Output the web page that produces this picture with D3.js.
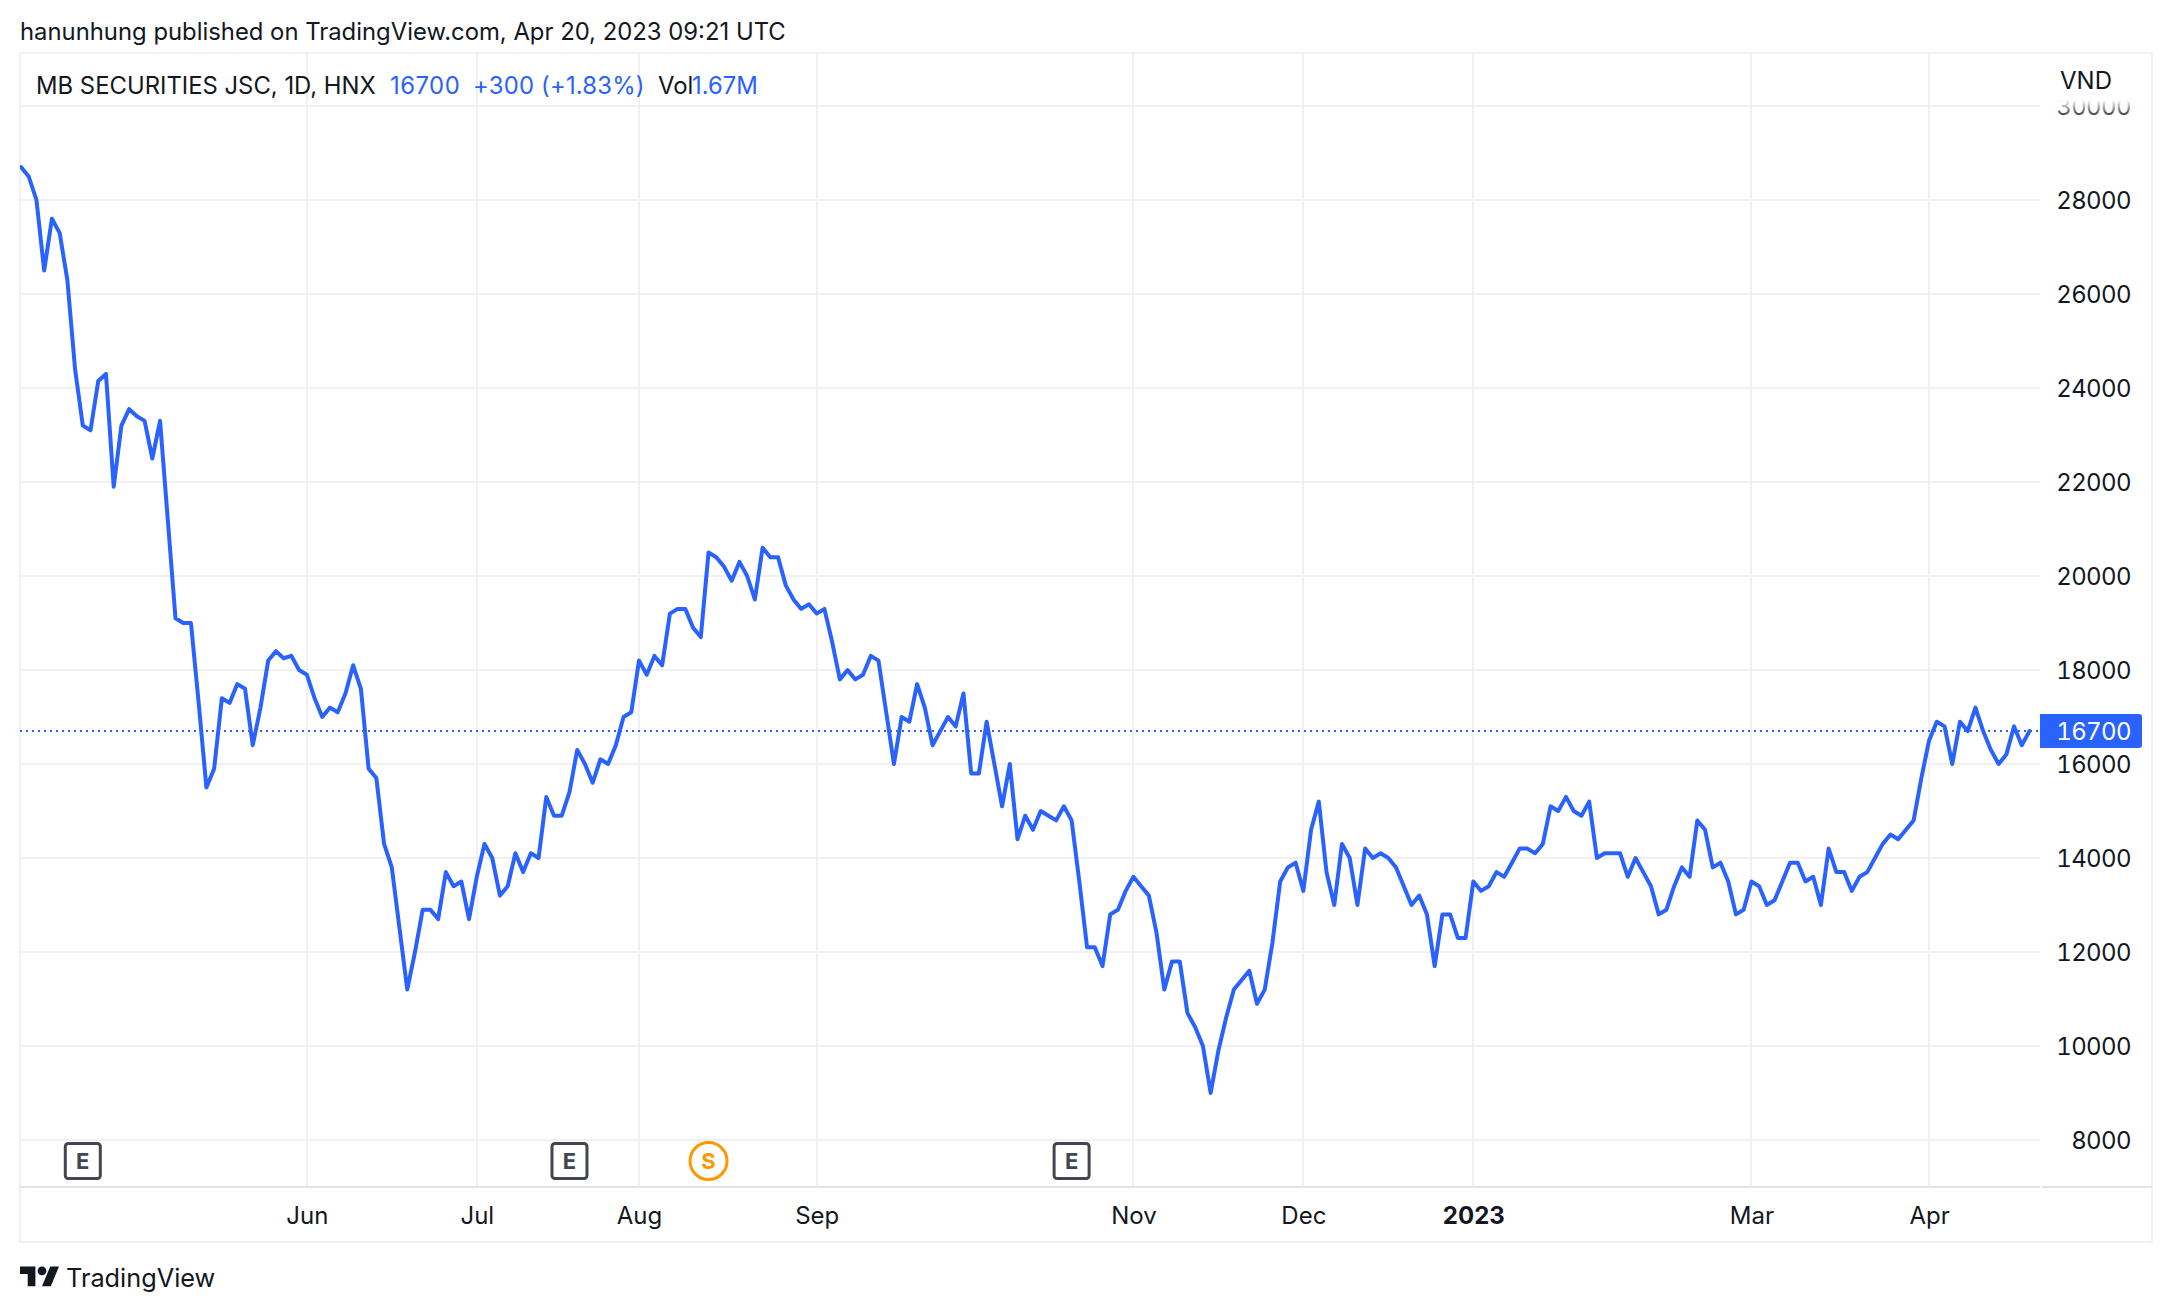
<!DOCTYPE html>
<html>
<head>
<meta charset="utf-8">
<script src="https://cdn.jsdelivr.net/npm/d3@7"></script>
<style>
  html, body { margin: 0; background: #fff; }
  svg { display: block; }
  text { font-family: Inter, 'Noto Sans', sans-serif; fill: #131722; }
  .nums text, text.nums { font-variant-numeric: tabular-nums; font-feature-settings: 'tnum' 1; letter-spacing: -0.6px; }
</style>
</head>
<body>
<div id="chart"></div>
<script>
// daily close (one value per trading day)
var prices = [
  28700, 28500, 28000, 26500, 27600, 27300, 26300, 24400, 23200, 23100,
  24150, 24300, 21900, 23200, 23550, 23400, 23300, 22500, 23300, 21200,
  19100, 19000, 19000, 17300, 15500, 15900, 17400, 17300, 17700, 17600,
  16400, 17200, 18200, 18400, 18250, 18300, 18000, 17900, 17400, 17000,
  17200, 17100, 17500, 18100, 17600, 15900, 15700, 14300, 13800, 12500,
  11200, 12000, 12900, 12900, 12700, 13700, 13400, 13500, 12700, 13600,
  14300, 14000, 13200, 13400, 14100, 13700, 14100, 14000, 15300, 14900,
  14900, 15400, 16300, 16000, 15600, 16100, 16000, 16400, 17000, 17100,
  18200, 17900, 18300, 18100, 19200, 19300, 19300, 18900, 18700, 20500,
  20400, 20200, 19900, 20300, 20000, 19500, 20600, 20400, 20400, 19800,
  19500, 19300, 19400, 19200, 19300, 18600, 17800, 18000, 17800, 17900,
  18300, 18200, 17100, 16000, 17000, 16900, 17700, 17200, 16400, 16700,
  17000, 16800, 17500, 15800, 15800, 16900, 16000, 15100, 16000, 14400,
  14900, 14600, 15000, 14900, 14800, 15100, 14800, 13500, 12100, 12100,
  11700, 12800, 12900, 13300, 13600, 13400, 13200, 12400, 11200, 11800,
  11800, 10700, 10400, 10000, 9000, 9900, 10600, 11200, 11400, 11600,
  10900, 11200, 12200, 13500, 13800, 13900, 13300, 14600, 15200, 13700,
  13000, 14300, 14000, 13000, 14200, 14000, 14100, 14000, 13800, 13400,
  13000, 13200, 12800, 11700, 12800, 12800, 12300, 12300, 13500, 13300,
  13400, 13700, 13600, 13900, 14200, 14200, 14100, 14300, 15100, 15000,
  15300, 15000, 14900, 15200, 14000, 14100, 14100, 14100, 13600, 14000,
  13700, 13400, 12800, 12900, 13400, 13800, 13600, 14800, 14600, 13800,
  13900, 13500, 12800, 12900, 13500, 13400, 13000, 13100, 13500, 13900,
  13900, 13500, 13600, 13000, 14200, 13700, 13700, 13300, 13600, 13700,
  14000, 14300, 14500, 14400, 14600, 14800, 15700, 16500, 16900, 16800,
  16000, 16900, 16700, 17200, 16700, 16300, 16000, 16200, 16800, 16400,
  16700
]
var priceTicks = [30000, 28000, 26000, 24000, 22000, 20000, 18000, 16000, 14000, 12000, 10000, 8000]
var timeIndexes = [37, 59, 80, 103, 144, 166, 188, 224, 247]
var timeLabels = ['Jun', 'Jul', 'Aug', 'Sep', 'Nov', 'Dec', '2023', 'Mar', 'Apr']
var eventIndexes = [8, 71, 89, 136]
var eventLabels = ['E', 'E', 'S', 'E']
var lastPrice = 16700

var blue = '#2962ff'
var gridColor = '#f1f1f3'
var frameColor = '#f0f1f6'
var axisLineColor = '#e0e3eb'

var width_all = 2172,
  height_all = 1312,
  left = 20,
  right = 2152,
  top_ = 53,
  paneRight = 2040,
  paneBottom = 1187,
  frameBottom = 1242

var svg = d3
  .select('#chart')
  .append('svg')
  .attr('width', width_all)
  .attr('height', height_all)
  .attr('viewBox', `0 0 ${width_all} ${height_all}`)

var x = d3
  .scaleLinear()
  .domain([0, prices.length - 1])
  .range([21, 2029.5])

var y = d3
  .scaleLinear()
  .domain([28000, 8000])
  .range([200, 1140])

var defs = svg.append('defs')
defs
  .append('clipPath')
  .attr('id', 'pane')
  .append('rect')
  .attr('x', left)
  .attr('y', top_)
  .attr('width', paneRight - left)
  .attr('height', paneBottom - top_)

var fade = defs
  .append('linearGradient')
  .attr('id', 'topFade')
  .attr('x1', 0)
  .attr('x2', 0)
  .attr('y1', 0)
  .attr('y2', 1)
fade.append('stop').attr('offset', 0).attr('stop-color', '#fff').attr('stop-opacity', 1)
fade.append('stop').attr('offset', 1).attr('stop-color', '#fff').attr('stop-opacity', 0)

// grid
var xAxis = d3
  .axisBottom(x)
  .tickValues(timeIndexes)
  .tickFormat((d, i) => timeLabels[i])
  .tickSize(0)
  .tickPadding(0)

svg
  .append('g')
  .selectAll('line')
  .data(timeIndexes)
  .enter()
  .append('line')
  .attr('x1', d => Math.round(x(d)))
  .attr('x2', d => Math.round(x(d)))
  .attr('y1', top_)
  .attr('y2', paneBottom)
  .attr('stroke', gridColor)
  .attr('stroke-width', 2)

svg
  .append('g')
  .selectAll('line')
  .data(priceTicks)
  .enter()
  .append('line')
  .attr('x1', left)
  .attr('x2', paneRight)
  .attr('y1', d => y(d))
  .attr('y2', d => y(d))
  .attr('stroke', gridColor)
  .attr('stroke-width', 2)

// frame
svg
  .append('rect')
  .attr('x', left)
  .attr('y', top_)
  .attr('width', right - left)
  .attr('height', frameBottom - top_)
  .attr('fill', 'none')
  .attr('stroke', frameColor)
  .attr('stroke-width', 2)

svg
  .append('line')
  .attr('x1', left)
  .attr('x2', paneRight)
  .attr('y1', paneBottom)
  .attr('y2', paneBottom)
  .attr('stroke', axisLineColor)
  .attr('stroke-width', 2)

svg
  .append('line')
  .attr('x1', paneRight + 2)
  .attr('x2', right)
  .attr('y1', paneBottom)
  .attr('y2', paneBottom)
  .attr('stroke', axisLineColor)
  .attr('stroke-width', 2)

// last price line
svg
  .append('line')
  .attr('x1', left)
  .attr('x2', paneRight)
  .attr('y1', y(lastPrice))
  .attr('y2', y(lastPrice))
  .attr('stroke', blue)
  .attr('stroke-width', 2)
  .attr('stroke-dasharray', '2 4')

// price line
svg
  .append('path')
  .datum(prices)
  .attr('clip-path', 'url(#pane)')
  .attr('fill', 'none')
  .attr('stroke', blue)
  .attr('stroke-width', 4)
  .attr('stroke-linejoin', 'round')
  .attr('stroke-linecap', 'round')
  .attr(
    'd',
    d3
      .line()
      .x((d, i) => x(i))
      .y(d => y(d))
  )

// price axis
var yAxis = d3
  .axisRight(y)
  .tickValues(priceTicks)
  .tickFormat(d => String(d))
  .tickSize(0)
  .tickPadding(0)

var yAxisG = svg
  .append('g')
  .attr('class', 'nums')
  .attr('transform', 'translate(2131,1)')
  .call(yAxis)
yAxisG.select('.domain').remove()
yAxisG
  .selectAll('text')
  .attr('text-anchor', 'end')
  .attr('x', 0)
  .attr('font-family', 'Inter')
  .attr('font-size', 24)
  .attr('fill', '#131722')

// top of the scale fades out under the currency label
svg
  .append('rect')
  .attr('x', paneRight + 2)
  .attr('y', top_ + 1)
  .attr('width', right - paneRight - 3)
  .attr('height', 46)
  .attr('fill', '#fff')
svg
  .append('rect')
  .attr('x', paneRight + 2)
  .attr('y', 100)
  .attr('width', right - paneRight - 3)
  .attr('height', 18)
  .attr('fill', 'url(#topFade)')

svg
  .append('text')
  .attr('x', 2060)
  .attr('y', 89)
  .attr('font-size', 24)
  .text('VND')

// last price label
var tag = svg.append('g').attr('transform', `translate(${paneRight},${y(lastPrice)})`)
tag
  .append('path')
  .attr('d', 'M0,-17H99a3,3 0 0 1 3,3V14a3,3 0 0 1 -3,3H0Z')
  .attr('fill', blue)
tag
  .append('text')
  .attr('class', 'nums')
  .attr('x', 91)
  .attr('dy', '0.38em')
  .attr('text-anchor', 'end')
  .attr('font-size', 24)
  .style('fill', '#fff')
  .text(lastPrice)

// time axis
var xAxisG = svg
  .append('g')
  .attr('transform', `translate(0,1224)`)
  .call(xAxis)
xAxisG.select('.domain').remove()
xAxisG
  .selectAll('text')
  .attr('dy', 0)
  .attr('y', 0)
  .attr('font-family', 'Inter')
  .attr('font-size', 24)
  .attr('fill', '#131722')
  .attr('font-weight', d => (d === 188 ? 700 : 400))

// event markers
var eventY = 1161
var events = svg
  .append('g')
  .selectAll('g')
  .data(eventIndexes)
  .enter()
  .append('g')
  .attr('transform', d => `translate(${x(d)},${eventY})`)

events.each(function(d, i) {
  var g = d3.select(this)
  var isSplit = eventLabels[i] === 'S'
  var col = isSplit ? '#ff9800' : '#434651'
  if (isSplit) {
    g.append('circle')
      .attr('r', 18.5)
      .attr('fill', '#fff')
      .attr('stroke', col)
      .attr('stroke-width', 3)
  } else {
    g.append('rect')
      .attr('x', -17.5)
      .attr('y', -17.5)
      .attr('width', 35)
      .attr('height', 35)
      .attr('rx', 3)
      .attr('fill', '#fff')
      .attr('stroke', col)
      .attr('stroke-width', 3)
  }
  g.append('text')
    .attr('text-anchor', 'middle')
    .attr('dy', '0.36em')
    .attr('font-size', 22)
    .attr('font-weight', 700)
    .style('fill', col)
    .text(eventLabels[i])
})

// header texts
svg
  .append('text')
  .attr('x', 20)
  .attr('y', 40)
  .attr('font-size', 23.85)
  .text('hanunhung published on TradingView.com, Apr 20, 2023 09:21 UTC')

var legend = svg
  .append('text')
  .attr('y', 94)
  .attr('font-size', 23.85)
legend.append('tspan').attr('x', 36).text('MB SECURITIES JSC, 1D, HNX')
legend.append('tspan').attr('x', 390).style('fill', blue).style('letter-spacing', '0.5px').text('16700')
legend.append('tspan').attr('x', 473).style('fill', blue).style('letter-spacing', '0.2px').text('+300 (+1.83%)')
legend.append('tspan').attr('x', 658).text('Vol')
legend.append('tspan').attr('x', 692).style('fill', blue).text('1.67M')

// logo
var logo = svg.append('g').attr('transform', 'translate(20,1262) scale(1.1)')
logo
  .append('path')
  .attr('d', 'M14 22H7V11H0V4h14v18zM28 22h-8l7.5-18h8L28 22z')
  .attr('fill', '#131722')
logo
  .append('circle')
  .attr('cx', 20)
  .attr('cy', 8)
  .attr('r', 4)
  .attr('fill', '#131722')

svg
  .append('text')
  .attr('x', 66)
  .attr('y', 1287)
  .attr('font-size', 25.3)
  .text('TradingView')
</script>
</body>
</html>
